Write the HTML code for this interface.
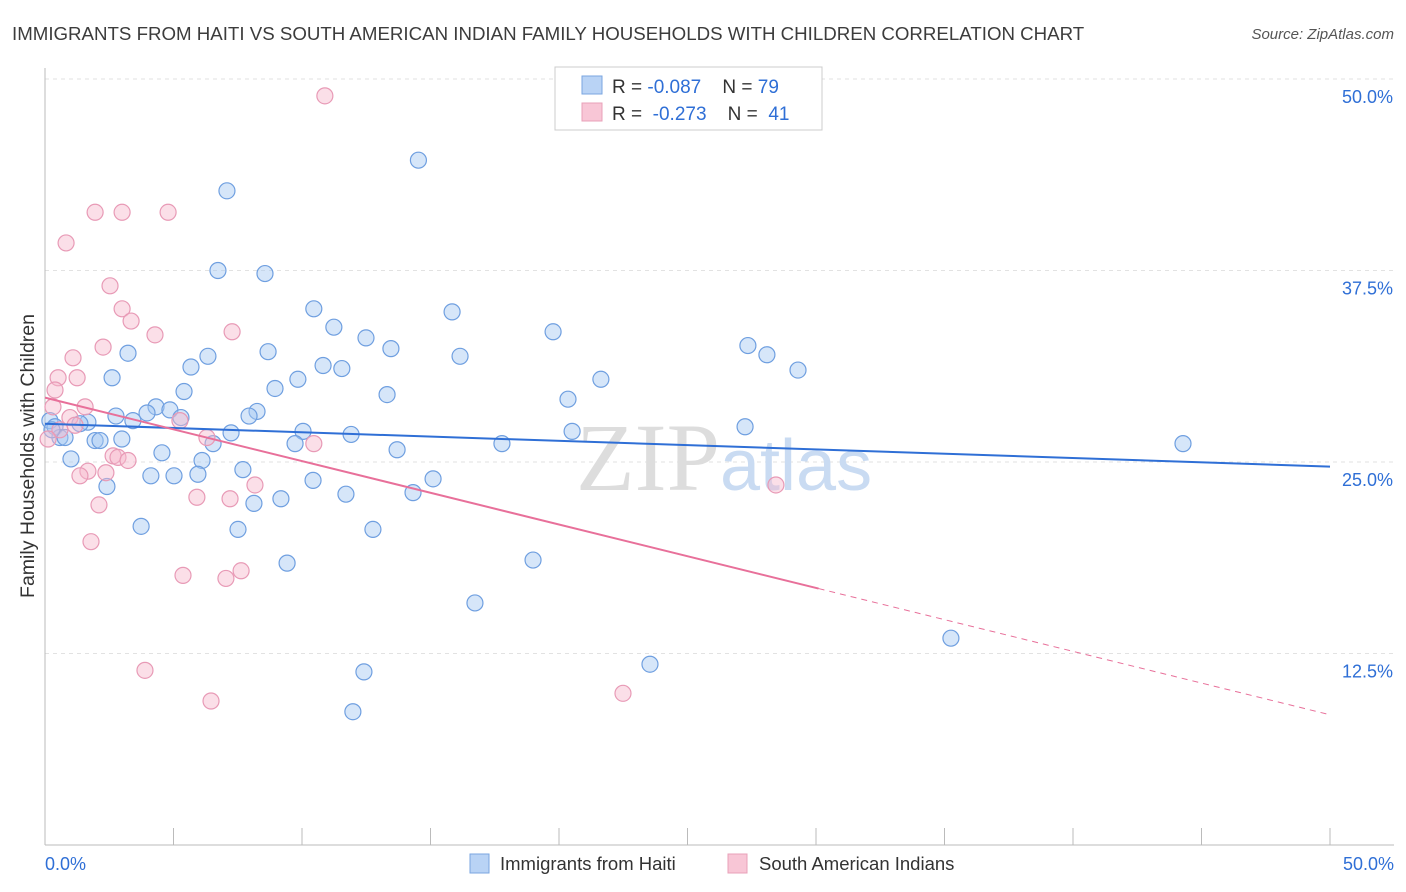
<!DOCTYPE html>
<html><head><meta charset="utf-8">
<style>
body{margin:0;background:#fff;font-family:"Liberation Sans",sans-serif;}
#wrap{position:relative;width:1406px;height:892px;overflow:hidden;}
</style></head>
<body>
<div id="wrap">
<svg id="chart" width="1406" height="892" xmlns="http://www.w3.org/2000/svg">
<text x="12" y="40" font-size="18.7" fill="#3c3c3c">IMMIGRANTS FROM HAITI VS SOUTH AMERICAN INDIAN FAMILY HOUSEHOLDS WITH CHILDREN CORRELATION CHART</text>
<text x="1394" y="39" font-size="15" fill="#555" font-style="italic" text-anchor="end">Source: ZipAtlas.com</text>
<text transform="translate(34,456) rotate(-90)" font-size="19.5" fill="#333" text-anchor="middle">Family Households with Children</text>
<g id="grid"></g>
<text x="720" y="490" font-size="96" font-family="Liberation Serif,serif" fill="#ddd" text-anchor="end">ZIP</text>
<text x="720" y="490" font-size="72" fill="#c9dbf2">atlas</text>
<g id="marks"></g>
<g>
<rect x="555" y="67" width="267" height="63" fill="#fff" stroke="#ccc"/>
<rect x="582" y="76" width="20" height="18" fill="#b9d3f5" stroke="#7aa6e0"/>
<rect x="582" y="103" width="20" height="18" fill="#f8c6d6" stroke="#e8a0b8"/>
<text x="612" y="93" font-size="19" fill="#333" xml:space="preserve" style="white-space:pre">R = <tspan fill="#2f6fd6">-0.087</tspan>    N = <tspan fill="#2f6fd6">79</tspan></text>
<text x="612" y="120" font-size="19" fill="#333" xml:space="preserve" style="white-space:pre">R =  <tspan fill="#2f6fd6">-0.273</tspan>    N =  <tspan fill="#2f6fd6">41</tspan></text>
</g>
<g>
<rect x="470" y="854" width="19" height="19" fill="#b9d3f5" stroke="#7aa6e0"/>
<text x="500" y="870" font-size="18.5" fill="#333">Immigrants from Haiti</text>
<rect x="728" y="854" width="19" height="19" fill="#f8c6d6" stroke="#e8a0b8"/>
<text x="759" y="870" font-size="18.5" fill="#333">South American Indians</text>
</g>
</svg>
</div>
<script>
const blueX=[14.53,7.08,6.73,8.56,10.46,15.84,11.24,19.77,12.49,27.35,28.09,3.23,6.34,8.68,13.46,16.15,5.68,10.82,11.55,29.3,2.61,9.84,21.63,5.41,8.95,13.31,20.35,4.32,3.97,4.86,8.25,7.94,5.29,2.76,1.67,3.42,1.36,0.19,0.39,0.58,1.95,2.14,2.99,0.78,7.24,10.04,11.91,20.51,27.24,6.54,9.73,17.78,44.28,13.7,4.55,1.01,6.11,7.7,5.95,4.12,5.02,10.43,15.1,2.41,11.71,14.32,9.18,8.13,3.74,7.51,12.76,18.99,9.42,16.73,35.25,23.54,12.41,11.98,0.27];
const blueY=[44.7,42.7,37.5,37.3,35.0,34.8,33.8,33.5,33.1,32.6,32.0,32.1,31.9,32.2,32.4,31.9,31.2,31.3,31.1,31.0,30.5,30.4,30.4,29.6,29.8,29.4,29.1,28.6,28.2,28.4,28.3,28.0,27.9,28.0,27.6,27.7,27.5,27.7,27.3,26.6,26.4,26.4,26.5,26.6,26.9,27.0,26.8,27.0,27.3,26.2,26.2,26.2,26.2,25.8,25.6,25.2,25.1,24.5,24.2,24.1,24.1,23.8,23.9,23.4,22.9,23.0,22.6,22.3,20.8,20.6,20.6,18.6,18.4,15.8,13.5,11.8,11.3,8.7,27.1];
const pinkX=[10.89,1.95,3.0,4.79,0.82,2.53,3.0,3.35,4.28,7.28,2.26,1.09,0.51,1.25,0.39,0.31,1.56,0.97,5.25,1.17,0.58,0.12,6.3,10.46,2.65,2.84,3.23,1.67,1.36,2.37,5.91,7.2,8.17,2.1,28.44,7.63,5.37,7.04,1.79,3.89,6.46,22.49];
const pinkY=[48.9,41.3,41.3,41.3,39.3,36.5,35.0,34.2,33.3,33.5,32.5,31.8,30.5,30.5,29.7,28.6,28.6,27.9,27.7,27.4,27.1,26.5,26.6,26.2,25.4,25.3,25.1,24.4,24.1,24.3,22.7,22.6,23.5,22.2,23.5,17.9,17.6,17.4,19.8,11.4,9.4,9.9];
const xTicks=[0,5,10,15,20,25,30,35,40,45,50];
const yTicks=[12.5,25.0,37.5,50.0];
const blueTrend=[27.5,24.7];
const pinkTrend=[29.2,8.5];
const pinkSolidEnd=30.1;

const NS="http://www.w3.org/2000/svg";
const X=v=>45+v/50*1285, Y=v=>845-v/50*766;
function mk(tag,attrs,parent){const e=document.createElementNS(NS,tag);for(const k in attrs)e.setAttribute(k,attrs[k]);parent.appendChild(e);return e;}
const grid=document.getElementById('grid'), marks=document.getElementById('marks');
yTicks.forEach(t=>{
 const l=mk('line',{x1:45,x2:1394,y1:Y(t),y2:Y(t),stroke:'#e2e2e2','stroke-dasharray':'4,4'},grid);
 
 
 const tx=mk('text',{x:1393,y:Y(t)+24,'font-size':18,fill:'#2f6fd6','text-anchor':'end'},grid);
 tx.textContent=t.toFixed(1)+'%';
 
 
});
const ax=mk('line',{x1:45,x2:1394,y1:845,y2:845,stroke:'#bbb'},grid);


const ay=mk('line',{x1:45,x2:45,y1:68,y2:845,stroke:'#bbb'},grid);


xTicks.forEach(t=>{
 const l=mk('line',{x1:X(t),x2:X(t),y1:828,y2:845,stroke:'#bbb'},grid);
 
 
});
[[0,'start',45],[50,'end',1394]].forEach(([t,a,px])=>{
 const tx=mk('text',{x:px,y:870,'font-size':18,fill:'#2f6fd6','text-anchor':a},grid);
 tx.textContent=t.toFixed(1)+'%';
 
 
});
blueX.forEach((v,i)=>{
 const c=mk('circle',{cx:X(v),cy:Y(blueY[i]),r:8,fill:'rgba(165,199,242,0.45)',stroke:'#6f9fe0','stroke-width':1.2},marks);
 
 
});
pinkX.forEach((v,i)=>{
 const c=mk('circle',{cx:X(v),cy:Y(pinkY[i]),r:8,fill:'rgba(246,184,204,0.45)',stroke:'#e89ab6','stroke-width':1.2},marks);
 
 
});
const bl=mk('line',{x1:X(0),y1:Y(blueTrend[0]),x2:X(50),y2:Y(blueTrend[1]),stroke:'#2f6fd6','stroke-width':2},marks);


const py=x=>pinkTrend[0]+(pinkTrend[1]-pinkTrend[0])*x/50;
const pl=mk('line',{x1:X(0),y1:Y(py(0)),x2:X(pinkSolidEnd),y2:Y(py(pinkSolidEnd)),stroke:'#e8709a','stroke-width':2},marks);


const pd=mk('line',{x1:X(pinkSolidEnd),y1:Y(py(pinkSolidEnd)),x2:X(50),y2:Y(py(50)),stroke:'#e8709a','stroke-width':1,'stroke-dasharray':'6,5'},marks);


</script>
</body></html>
